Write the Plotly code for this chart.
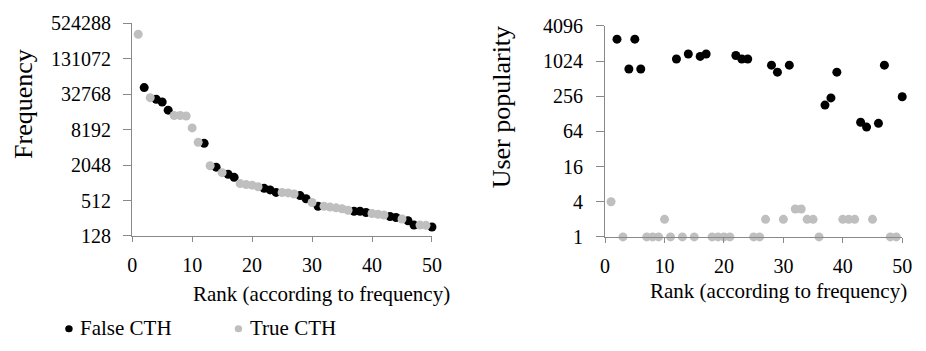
import math
import plotly.graph_objects as go

# ---------------- data ----------------
ranks = list(range(1, 51))
frequency = [343000, 42600, 28700, 27000, 24200, 17600, 14300, 14300, 14000, 8800,
             5000, 4800, 2000, 1890, 1525, 1435, 1270, 995, 955, 935,
             880, 826, 776, 704, 700, 690, 662, 622, 550, 474,
             410, 410, 396, 385, 372, 350, 336, 336, 320, 308,
             300, 290, 274, 264, 248, 232, 196, 196, 194, 182]
popularity = [4, 2435, 1, 750, 2435, 750, 1, 1, 1, 2,
              1, 1117, 1, 1360, 1, 1235, 1360, 1, 1, 1,
              1, 1280, 1117, 1117, 1, 1, 2, 873, 664, 2,
              873, 3, 3, 2, 2, 1, 181, 240, 664, 2,
              2, 2, 92, 76, 2, 88, 873, 1, 1, 252]
true_cth_ranks = [1, 3, 7, 8, 9, 10, 11, 13, 15, 18, 19, 20, 21, 25, 26, 27, 30,
                  32, 33, 34, 35, 36, 40, 41, 42, 45, 48, 49]
series_names = ["False CTH", "True CTH"]
x_ticks = [0, 10, 20, 30, 40, 50]
freq_ticks = [128, 512, 2048, 8192, 32768, 131072, 524288]
pop_ticks = [1, 4, 16, 64, 256, 1024, 4096]

# ---------------- split ----------------
is_true = [r in true_cth_ranks for r in ranks]
rf = [r for r, t in zip(ranks, is_true) if not t]
rt = [r for r, t in zip(ranks, is_true) if t]
ff = [v for v, t in zip(frequency, is_true) if not t]
ft = [v for v, t in zip(frequency, is_true) if t]
pf = [v for v, t in zip(popularity, is_true) if not t]
pt = [v for v, t in zip(popularity, is_true) if t]

W, H = 926, 351
BLACK = "#000000"
GREY = "#BFBFBF"
AX = "#898989"
FONT = "Liberation Serif, Times New Roman, serif"

def fx(p):
    return p / W

def fy(p):
    return 1 - p / H

fig = go.Figure()
mk = dict(size=9, line=dict(width=0))
fig.add_trace(go.Scatter(x=rf, y=ff, mode="markers", marker=dict(color=BLACK, **mk),
                         name=series_names[0], xaxis="x", yaxis="y", cliponaxis=False))
fig.add_trace(go.Scatter(x=rt, y=ft, mode="markers", marker=dict(color=GREY, **mk),
                         name=series_names[1], xaxis="x", yaxis="y", cliponaxis=False))
fig.add_trace(go.Scatter(x=rf, y=pf, mode="markers", marker=dict(color=BLACK, **mk),
                         name=series_names[0], xaxis="x2", yaxis="y2", cliponaxis=False))
fig.add_trace(go.Scatter(x=rt, y=pt, mode="markers", marker=dict(color=GREY, **mk),
                         name=series_names[1], xaxis="x2", yaxis="y2", cliponaxis=False))

tickfont = dict(family=FONT, size=20, color=BLACK)
common = dict(showline=True, linecolor=AX, linewidth=1.3, ticks="outside",
              tickcolor=AX, tickwidth=1.3, showgrid=False, zeroline=False, tickfont=tickfont)

fig.update_layout(
    width=W, height=H, margin=dict(l=0, r=0, t=0, b=0),
    paper_bgcolor="white", plot_bgcolor="white", showlegend=False,
    font=dict(family=FONT, color=BLACK),
    xaxis=dict(domain=[fx(129.3), fx(434)], range=[0, 50], tickvals=x_ticks,
               anchor="y", ticklen=5, ticklabelstandoff=6, **common),
    yaxis=dict(domain=[fy(240), fy(13.3)], type="log",
               range=[math.log10(freq_ticks[0]), math.log10(freq_ticks[-1])],
               tickvals=freq_ticks, ticktext=[str(v) for v in freq_ticks],
               anchor="x", ticklen=8, ticklabelstandoff=8, **common),
    xaxis2=dict(domain=[fx(610), fx(912)], range=[0, 50], tickvals=x_ticks,
                anchor="y2", ticklen=5, ticklabelstandoff=6, **common),
    yaxis2=dict(domain=[fy(241), fy(16)], type="log",
                range=[math.log10(pop_ticks[0]), math.log10(pop_ticks[-1])],
                tickvals=pop_ticks, ticktext=[str(v) for v in pop_ticks],
                anchor="x2", ticklen=8, ticklabelstandoff=9, **common),
)

ann = []
ann.append(dict(text="Frequency", x=fx(19.5), y=fy(99), xref="paper", yref="paper",
                textangle=-90, showarrow=False, xanchor="center", yanchor="middle",
                font=dict(family=FONT, size=26, color=BLACK)))
ann.append(dict(text="User popularity", x=fx(505), y=fy(103), xref="paper", yref="paper",
                textangle=-90, showarrow=False, xanchor="center", yanchor="middle",
                font=dict(family=FONT, size=26, color=BLACK)))
ann.append(dict(text="Rank (according to frequency)", x=fx(322), y=fy(301.5), xref="paper",
                yref="paper", showarrow=False, xanchor="center", yanchor="middle",
                font=dict(family=FONT, size=21, color=BLACK)))
ann.append(dict(text="Rank (according to frequency)", x=fx(786), y=fy(298.3), xref="paper",
                yref="paper", showarrow=False, xanchor="center", yanchor="middle",
                font=dict(family=FONT, size=21, color=BLACK)))
# legend
leg_y = 338
ann.append(dict(text=series_names[0], x=fx(74.5), y=fy(leg_y), xref="paper", yref="paper",
                showarrow=False, xanchor="left", yanchor="middle",
                font=dict(family=FONT, size=21, color=BLACK)))
ann.append(dict(text=series_names[1], x=fx(247), y=fy(leg_y), xref="paper", yref="paper",
                showarrow=False, xanchor="left", yanchor="middle",
                font=dict(family=FONT, size=21, color=BLACK)))
shapes = []
for cx, col in [(65, BLACK), (237.3, GREY)]:
    shapes.append(dict(type="circle", xref="paper", yref="paper",
                       x0=fx(cx - 3.8), x1=fx(cx + 3.8), y0=fy(leg_y + 1 + 3.8), y1=fy(leg_y + 1 - 3.8),
                       fillcolor=col, line=dict(width=0)))
fig.update_layout(annotations=ann, shapes=shapes)

fig.write_html("out.html")
